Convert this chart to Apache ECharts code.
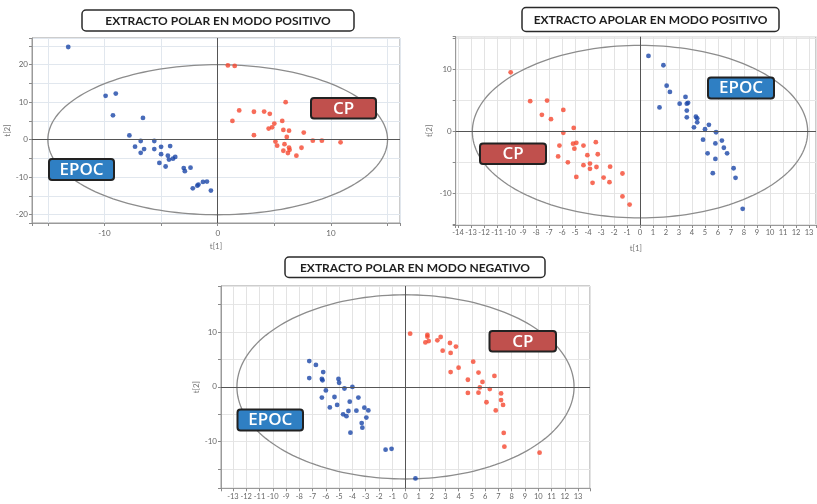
<!DOCTYPE html>
<html><head><meta charset="utf-8">
<script src="https://cdn.jsdelivr.net/npm/echarts@6/dist/echarts.min.js"></script>
<style>html,body{margin:0;padding:0;background:#fff}#c{width:817px;height:504px}</style>
</head><body><div id="c"></div><script>
// ---------- DATA ----------
const panelTitles = ['EXTRACTO POLAR EN MODO POSITIVO', 'EXTRACTO APOLAR EN MODO POSITIVO', 'EXTRACTO POLAR EN MODO NEGATIVO'];
const groupNames = ['EPOC', 'CP'];

const p1Epoc = [[-13.2,24.7],[-9.9,11.7],[-9.0,12.3],[-9.25,6.5],[-6.6,5.8],[-7.8,1.15],[-6.8,-0.35],[-5.6,-0.35],[-7.3,-1.85],[-6.5,-2.5],[-6.8,-3.5],[-5.6,-2.5],[-5.0,-1.9],[-4.2,-1.7],[-5.0,-3.85],[-4.4,-4.25],[-4.3,-5.3],[-3.95,-5.05],[-3.75,-4.6],[-5.15,-6.2],[-4.6,-7.15],[-3.0,-7.55],[-2.9,-8.4],[-2.4,-7.45],[-2.2,-12.95],[-1.8,-12.25],[-1.7,-11.95],[-1.3,-11.25],[-0.95,-11.15],[-0.6,-13.55]];
const p1Cp = [[0.9,19.8],[1.5,19.65],[1.3,5.0],[1.9,7.8],[3.2,7.45],[3.2,1.2],[4.1,7.5],[4.6,6.9],[6.0,10.0],[4.5,2.95],[4.8,3.3],[5.0,4.3],[5.7,5.0],[5.8,2.6],[6.3,2.4],[6.1,0.75],[7.6,1.9],[5.1,-0.5],[5.25,-1.6],[5.9,-1.2],[6.3,-2.1],[6.35,-2.7],[5.8,-2.95],[6.2,-3.55],[6.95,-4.25],[7.4,-2.15],[8.4,-0.25],[9.2,-0.25],[10.85,-0.7]];

const p2Cp = [[-9.95,9.55],[-8.45,4.9],[-7.15,5.0],[-7.55,2.7],[-6.85,2.0],[-5.9,3.5],[-5.1,0.6],[-5.9,-0.2],[-6.2,-2.25],[-6.3,-4.0],[-5.55,-4.95],[-5.15,-1.95],[-4.9,-1.8],[-5.05,-2.75],[-4.9,-7.3],[-4.35,-2.25],[-4.05,-3.8],[-4.35,-5.4],[-3.85,-5.15],[-3.85,-6.0],[-3.4,-1.7],[-3.25,-3.65],[-3.35,-5.7],[-3.65,-8.25],[-2.8,-7.4],[-2.3,-5.65],[-2.35,-8.15],[-1.35,-6.75],[-1.35,-10.45],[-0.8,-11.75]];
const p2Epoc = [[0.65,12.2],[1.8,10.7],[2.05,7.4],[2.3,6.4],[1.5,3.9],[3.5,5.6],[3.05,4.5],[3.6,4.5],[3.7,4.65],[3.6,3.4],[3.6,2.3],[4.3,2.4],[4.4,2.15],[4.4,1.5],[4.15,0.7],[5.0,0.4],[5.3,1.1],[5.85,-0.1],[4.85,-1.3],[6.3,-1.45],[5.8,-1.9],[6.45,-2.6],[5.2,-3.5],[6.7,-3.5],[5.8,-4.4],[5.6,-6.7],[7.2,-5.9],[7.35,-7.45],[7.9,-12.45]];

const p3Epoc = [[-7.25,4.7],[-6.75,4.0],[-6.2,2.7],[-7.25,1.6],[-6.3,1.45],[-6.25,1.2],[-5.05,1.45],[-5.0,0.75],[-6.0,-0.65],[-4.6,-0.3],[-4.0,0.0],[-6.3,-1.95],[-5.35,-1.85],[-4.2,-2.7],[-3.55,-1.95],[-5.7,-3.75],[-5.15,-3.3],[-3.1,-3.8],[-2.8,-4.3],[-4.3,-4.4],[-3.7,-4.35],[-4.7,-5.0],[-4.45,-5.35],[-2.95,-5.6],[-3.3,-6.6],[-3.25,-7.45],[-4.15,-8.35],[-1.5,-11.45],[-1.05,-11.3],[0.75,-16.7]];
const p3Cp = [[0.35,9.7],[1.65,9.5],[1.65,9.15],[1.5,8.1],[1.75,8.35],[2.4,8.5],[2.65,9.1],[3.35,8.0],[3.8,7.35],[2.8,6.6],[3.4,6.2],[5.1,4.6],[4.0,3.5],[3.4,2.7],[5.5,2.6],[6.7,2.0],[4.7,1.3],[5.8,0.9],[5.6,-0.1],[6.35,-0.4],[4.7,-1.1],[5.5,-1.05],[7.2,-1.2],[7.2,-2.4],[7.35,-3.3],[6.1,-2.8],[6.8,-4.3],[7.4,-8.4],[7.45,-10.9],[10.1,-12.0]];

// confidence ellipse semi-axes [a (t1), b (t2)]
const ellipse1 = [15, 20];
const ellipse2 = [12.9, 13.9];
const ellipse3 = [12.7, 16.8];

// tick labels
const ticks1X = [-10, 0, 10];
const ticks1Y = [-20, -10, 0, 10, 20];
const ticks2X = [-14,-13,-12,-11,-10,-9,-8,-7,-6,-5,-4,-3,-2,-1,0,1,2,3,4,5,6,7,8,9,10,11,12,13];
const ticks2Y = [-10, 0, 10];
const ticks3X = [-13,-12,-11,-10,-9,-8,-7,-6,-5,-4,-3,-2,-1,0,1,2,3,4,5,6,7,8,9,10,11,12,13];
const ticks3Y = [-10, 0, 10];

// ---------- STYLE / LAYOUT ----------
const BLUE = '#1a46a8', RED = '#f5472f';
const BOX_BLUE = '#2f7fc3', BOX_RED = '#c0504d';
const grids = [
  {left: 32, top: 38, width: 368, height: 185},
  {left: 455.7, top: 36.7, width: 360.3, height: 188.3},
  {left: 221, top: 286, width: 369, height: 202.3}
];
const ranges = [
  {x: [-16.4, 16.1], y: [-22.2, 27.1], xi: 5, yi: 5, tx: ticks1X, ty: ticks1Y, xn: 19, yn: 19},
  {x: [-14.18, 13.54], y: [-15.05, 15.3], xi: 1, yi: 5, tx: ticks2X, ty: ticks2Y, xn: 19, yn: 22},
  {x: [-13.9, 13.9], y: [-18.5, 18.4], xi: 1, yi: 5, tx: ticks3X, ty: ticks3Y, xn: 22, yn: 16}
];
const ellipses = [ellipse1, ellipse2, ellipse3];
const pts = [[p1Epoc, p1Cp], [p2Epoc, p2Cp], [p3Epoc, p3Cp]];

function fmt(list) { return v => (list.indexOf(Math.round(v*1000)/1000) >= 0 ? String(v) : ''); }

const xAxes = [], yAxes = [], series = [];
ranges.forEach((r, i) => {
  const common = {
    type: 'value', gridIndex: i,
    axisLine: {show: true, onZero: false, lineStyle: {color: '#9a9a9a', width: 1}},
    axisTick: {show: true, length: 3, lineStyle: {color: '#8a8a8a'}},
    nameTextStyle: {color: '#777', fontSize: 8, fontFamily: 'Lato'},
    nameLocation: 'middle'
  };
  xAxes.push(Object.assign({}, common, {
    min: r.x[0], max: r.x[1], minInterval: r.xi, maxInterval: r.xi, splitNumber: 8,
    name: 't[1]', nameGap: r.xn,
    axisLabel: {interval: 0, formatter: fmt(r.tx), color: '#666', fontSize: i === 0 ? 8 : 7.5, fontFamily: 'Lato', margin: i === 0 ? 6 : 4},
    splitLine: {show: true, lineStyle: {color: i === 0 ? '#e1e7ee' : '#e3e3e3', width: 1}}
  }));
  yAxes.push(Object.assign({}, common, {
    min: r.y[0], max: r.y[1], minInterval: r.yi, maxInterval: r.yi, splitNumber: 8,
    name: 't[2]', nameGap: r.yn,
    axisLabel: {interval: 0, formatter: fmt(r.ty), color: '#666', fontSize: 8, fontFamily: 'Lato', margin: 4},
    splitLine: {show: true, lineStyle: {color: i === 0 ? '#e1e7ee' : '#e6e6e6', width: 1}}
  }));
  // zero lines
  series.push({
    type: 'scatter', xAxisIndex: i, yAxisIndex: i, data: [[0, 0]], symbolSize: 0, z: 1, silent: true,
    markLine: {silent: true, symbol: ['none', 'none'], label: {show: false}, animation: false,
      lineStyle: {color: '#555', width: 1, type: 'solid'},
      data: [{xAxis: 0}, {yAxis: 0}]}
  });
  // ellipse
  const ab = ellipses[i];
  series.push({
    type: 'custom', xAxisIndex: i, yAxisIndex: i, data: [[0, 0]], z: 2, silent: true,
    renderItem: (params, api) => {
      const p = [];
      for (let k = 0; k <= 180; k++) {
        const t = k / 180 * 2 * Math.PI;
        p.push(api.coord([ab[0] * Math.cos(t), ab[1] * Math.sin(t)]));
      }
      return {type: 'polyline', shape: {points: p}, style: {stroke: '#8c8c8c', lineWidth: 1.3, fill: null}};
    }
  });
  series.push({type: 'scatter', name: groupNames[0], xAxisIndex: i, yAxisIndex: i, data: pts[i][0], symbolSize: 4.8, itemStyle: {color: BLUE}, z: 3});
  series.push({type: 'scatter', name: groupNames[1], xAxisIndex: i, yAxisIndex: i, data: pts[i][1], symbolSize: 4.8, itemStyle: {color: RED}, z: 3});
});

// boxes
const titleBoxes = [
  {x: 82, y: 10, w: 272, h: 21},
  {x: 522, y: 7.5, w: 257, h: 24},
  {x: 285, y: 257, w: 260, h: 20.5}
];
const labelBoxes = [
  [{x: 49, y: 159, w: 65, h: 21}, {x: 311, y: 98, w: 65, h: 20.5}],
  [{x: 708, y: 77.5, w: 66, h: 21}, {x: 480, y: 143.5, w: 66, h: 20.5}],
  [{x: 237.5, y: 409.5, w: 65.5, h: 21}, {x: 489.5, y: 331, w: 66.5, h: 20.5}]
];
const graphic = [];
titleBoxes.forEach((b, i) => {
  graphic.push({type: 'rect', shape: {x: b.x, y: b.y, width: b.w, height: b.h, r: 4},
    style: {fill: '#fff', stroke: '#2a2a2a', lineWidth: 1.5}, z: 10});
  graphic.push({type: 'text', x: b.x + b.w / 2, y: b.y + b.h / 2 + 0.5,
    style: {text: panelTitles[i], fill: '#1e1e1e', font: 'bold 12px Lato', textAlign: 'center', textVerticalAlign: 'middle'}, z: 11});
});
labelBoxes.forEach(pair => {
  pair.forEach((b, j) => {
    graphic.push({type: 'rect', shape: {x: b.x, y: b.y, width: b.w, height: b.h, r: 3},
      style: {fill: j === 0 ? BOX_BLUE : BOX_RED, stroke: '#222', lineWidth: 2}, z: 10});
    graphic.push({type: 'text', x: b.x + b.w / 2, y: b.y + b.h / 2 + 0.5,
      style: {text: groupNames[j], fill: '#fff', font: '600 17px "Open Sans"', textAlign: 'center', textVerticalAlign: 'middle'}, z: 11});
  });
});

const chart = echarts.init(document.getElementById('c'), null, {renderer: 'canvas'});
chart.setOption({
  backgroundColor: '#fff',
  animation: false,
  grid: grids.map(g => Object.assign({show: true, borderColor: '#9a9a9a', borderWidth: 1, backgroundColor: 'transparent', containLabel: false, outerBoundsMode: 'none'}, g)),
  xAxis: xAxes,
  yAxis: yAxes,
  series: series,
  graphic: graphic
});
</script></body></html>
